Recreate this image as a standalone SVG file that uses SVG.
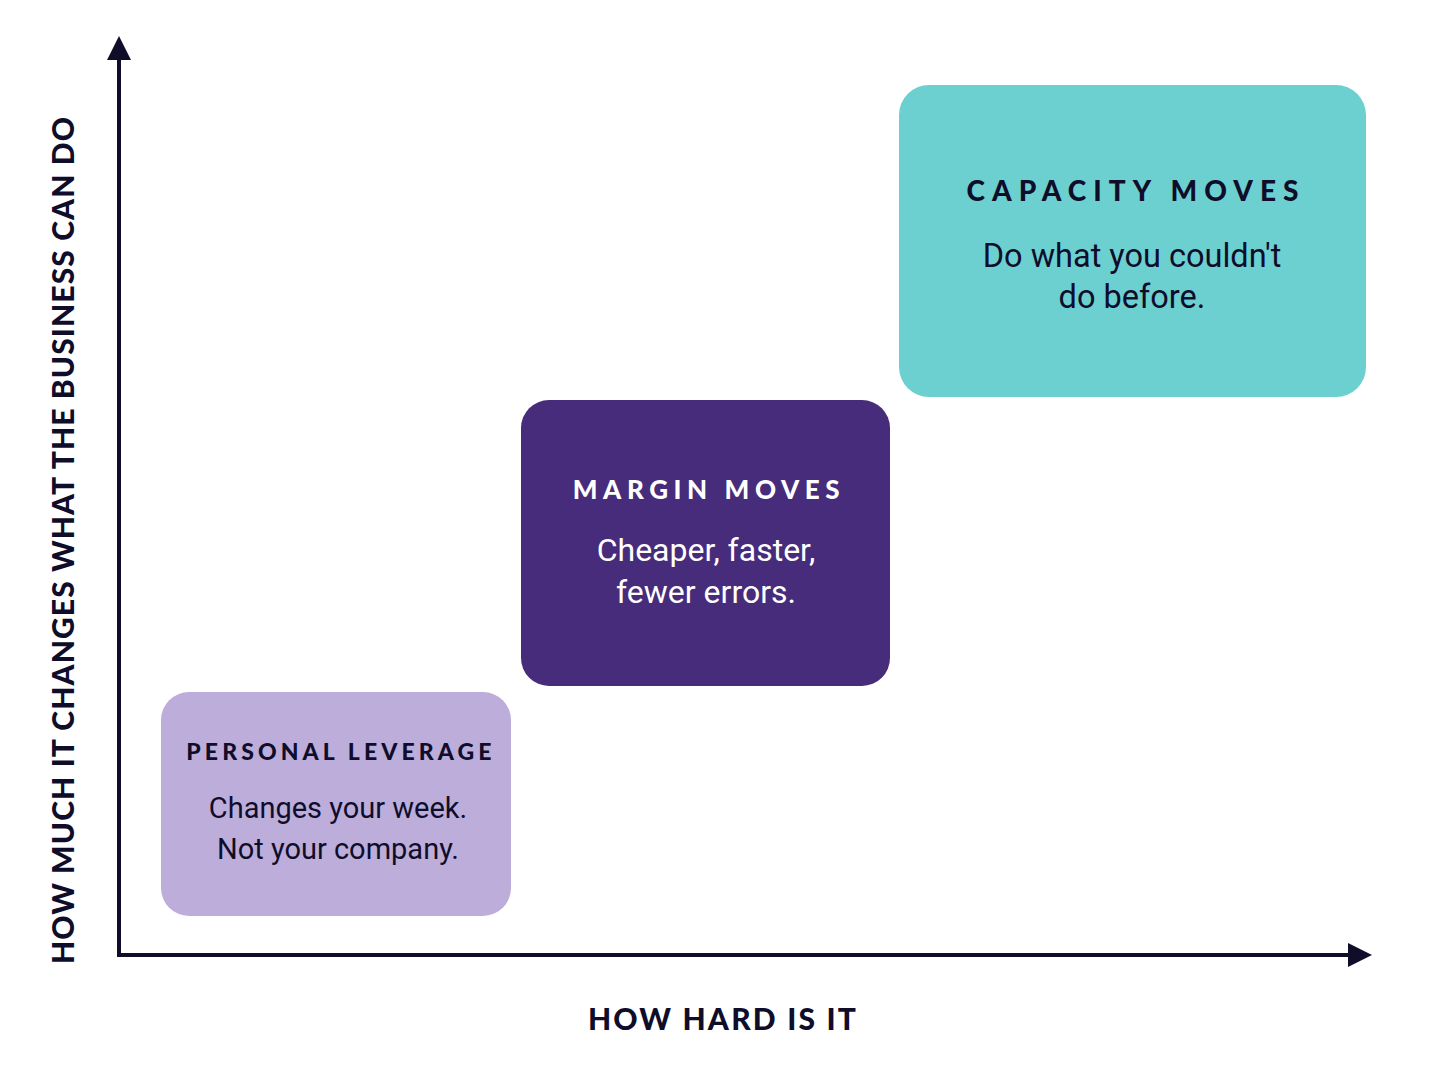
<svg xmlns="http://www.w3.org/2000/svg" width="1448" height="1086" viewBox="0 0 1448 1086">
<style>
.title{font-family:Lato,"Liberation Sans",sans-serif;font-weight:900;text-anchor:middle}
.body{font-family:Roboto,"Liberation Sans",sans-serif;font-weight:400;text-anchor:middle}
.axis{stroke:#0f0d2a;stroke-width:4;fill:none}
.axlabel{font-family:Lato,"Liberation Sans",sans-serif;font-weight:900;fill:#0f0d2a;text-anchor:middle}
</style>
<defs>
<marker id="arr" viewBox="0 0 10 10" refX="0" refY="5" markerWidth="6" markerHeight="6" markerUnits="strokeWidth" orient="auto">
<path d="M0,0 L10,5 L0,10 Z" fill="#0f0d2a"/>
</marker>
</defs>
<rect width="1448" height="1086" fill="#ffffff"/>
<g id="connectors">
<path class="axis" d="M119,955 L119,60" marker-end="url(#arr)"/>
<path class="axis" d="M117,955 L1348,955" marker-end="url(#arr)"/>
</g>
<g id="personal-leverage">
<rect x="161" y="692" width="350" height="224" rx="28" fill="#bcaddb"/>
<text class="title" x="341" y="760" font-size="23" letter-spacing="4.1" fill="#0f0d2a">PERSONAL LEVERAGE</text>
<text class="body" x="338" y="818" font-size="29" fill="#0f0d2a">Changes your week.</text>
<text class="body" x="338" y="859" font-size="29" fill="#0f0d2a">Not your company.</text>
</g>
<g id="margin-moves">
<rect x="521" y="400" width="369" height="286" rx="28" fill="#462c7a"/>
<text class="title" x="709" y="499" font-size="26" letter-spacing="5.6" fill="#ffffff">MARGIN MOVES</text>
<text class="body" x="706" y="561" font-size="32" fill="#ffffff">Cheaper, faster,</text>
<text class="body" x="706" y="603" font-size="32" fill="#ffffff">fewer errors.</text>
</g>
<g id="capacity-moves">
<rect x="899" y="85" width="467" height="312" rx="30" fill="#6dd0d0"/>
<text class="title" x="1136" y="201" font-size="28" letter-spacing="7" fill="#0f0d2a">CAPACITY MOVES</text>
<text class="body" x="1132" y="267" font-size="32.5" fill="#0f0d2a">Do what you couldn't</text>
<text class="body" x="1132" y="308" font-size="32.5" fill="#0f0d2a">do before.</text>
</g>
<g id="axis-labels">
<text class="axlabel" x="723" y="1030" font-size="30" letter-spacing="2.2">HOW HARD IS IT</text>
<text class="axlabel" transform="translate(74,540) rotate(-90)" font-size="30" letter-spacing="1.1">HOW MUCH IT CHANGES WHAT THE BUSINESS CAN DO</text>
</g>
</svg>
